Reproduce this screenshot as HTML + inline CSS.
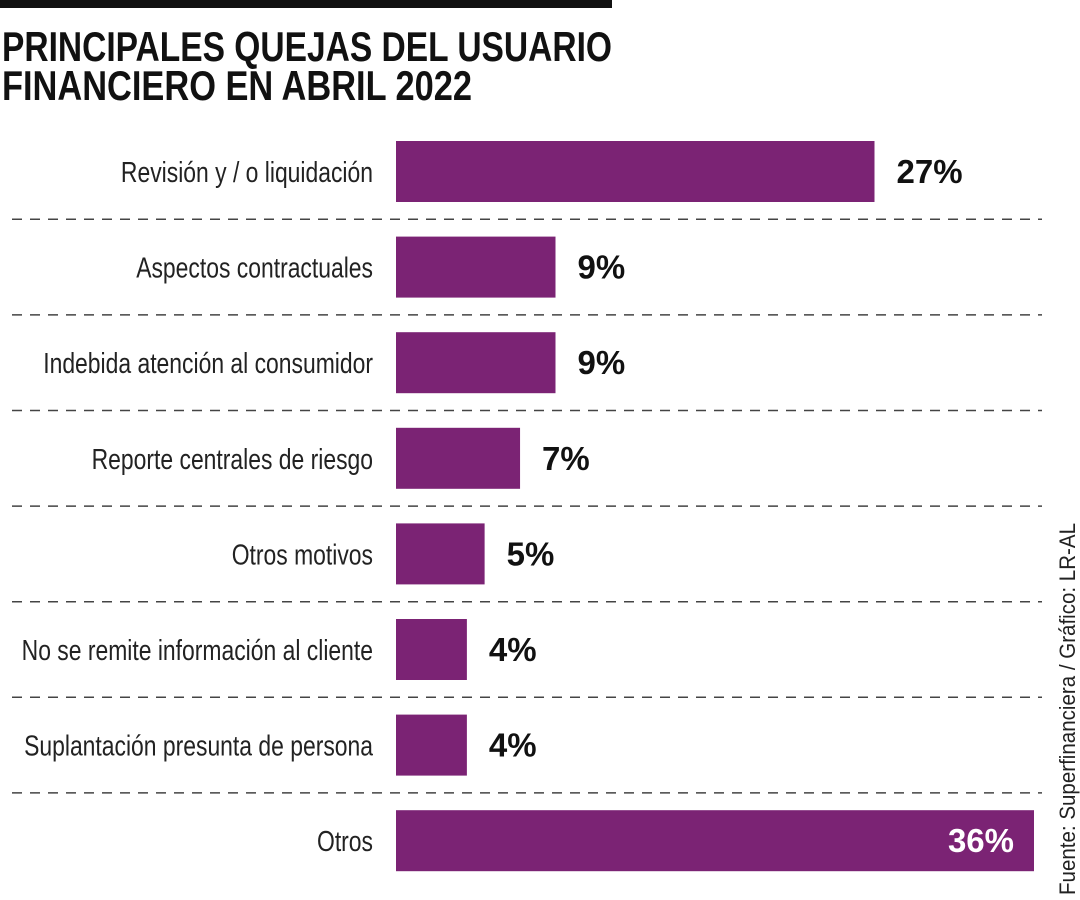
<!DOCTYPE html>
<html><head><meta charset="utf-8"><style>
html,body{margin:0;padding:0;background:#fff;}
svg{display:block;font-family:"Liberation Sans",sans-serif;}
</style></head><body>
<svg id="chart" width="1080" height="900" viewBox="0 0 1080 900">
<rect x="0" y="0" width="612" height="8" fill="#111"/>
<text x="2" y="61" font-size="42" font-weight="bold" fill="#111" textLength="610" lengthAdjust="spacingAndGlyphs">PRINCIPALES QUEJAS DEL USUARIO</text>
<text x="2" y="100" font-size="42" font-weight="bold" fill="#111" textLength="470" lengthAdjust="spacingAndGlyphs">FINANCIERO EN ABRIL 2022</text>
<text transform="translate(1075,895) rotate(-90)" font-size="22" fill="#222" textLength="372" lengthAdjust="spacingAndGlyphs">Fuente: Superfinanciera / Gráfico: LR-AL</text>
<g id="bars"></g>
</svg>
<script>
const categories = ["Revisión y / o liquidación","Aspectos contractuales","Indebida atención al consumidor","Reporte centrales de riesgo","Otros motivos","No se remite información al cliente","Suplantación presunta de persona","Otros"];
const values = [27,9,9,7,5,4,4,36];
const valueLabels = ["27%","9%","9%","7%","5%","4%","4%","36%"];

const NS="http://www.w3.org/2000/svg";
const g=document.getElementById('bars');
const x0=396, pxPerUnit=638/36;
const xScale=v=>v*pxPerUnit;
const rowTop=i=>141+i*95.6;
const barH=61;
function mk(tag,attrs){const e=document.createElementNS(NS,tag);for(const k in attrs)e.setAttribute(k,attrs[k]);g.appendChild(e);return e;}
categories.forEach((c,i)=>{
  const y=rowTop(i);
  const w=xScale(values[i]);
  const bar=mk('rect',{x:x0,y:y,width:w,height:barH,fill:'#7b2374'});
  
  
  const lab=mk('text',{transform:`translate(373,${y+41}) scale(0.79,1)`,'text-anchor':'end','font-size':29,fill:'#222'});
  lab.textContent=c;
  
  
  const inside = i===categories.length-1;
  const vt=mk('text',{x: inside? x0+w-20 : x0+w+22, y:y+42,'text-anchor':inside?'end':'start','font-size':33,'font-weight':'bold',fill:inside?'#fff':'#111'});
  vt.textContent=valueLabels[i];
  
  
  if(i<categories.length-1){
    const ly=y+barH+(95.6-barH)/2;
    const ln=mk('line',{x1:12,x2:1042,y1:ly,y2:ly,stroke:'#444','stroke-width':1.5,'stroke-dasharray':'10 8'});
    
    
  }
});
</script>
</body></html>
